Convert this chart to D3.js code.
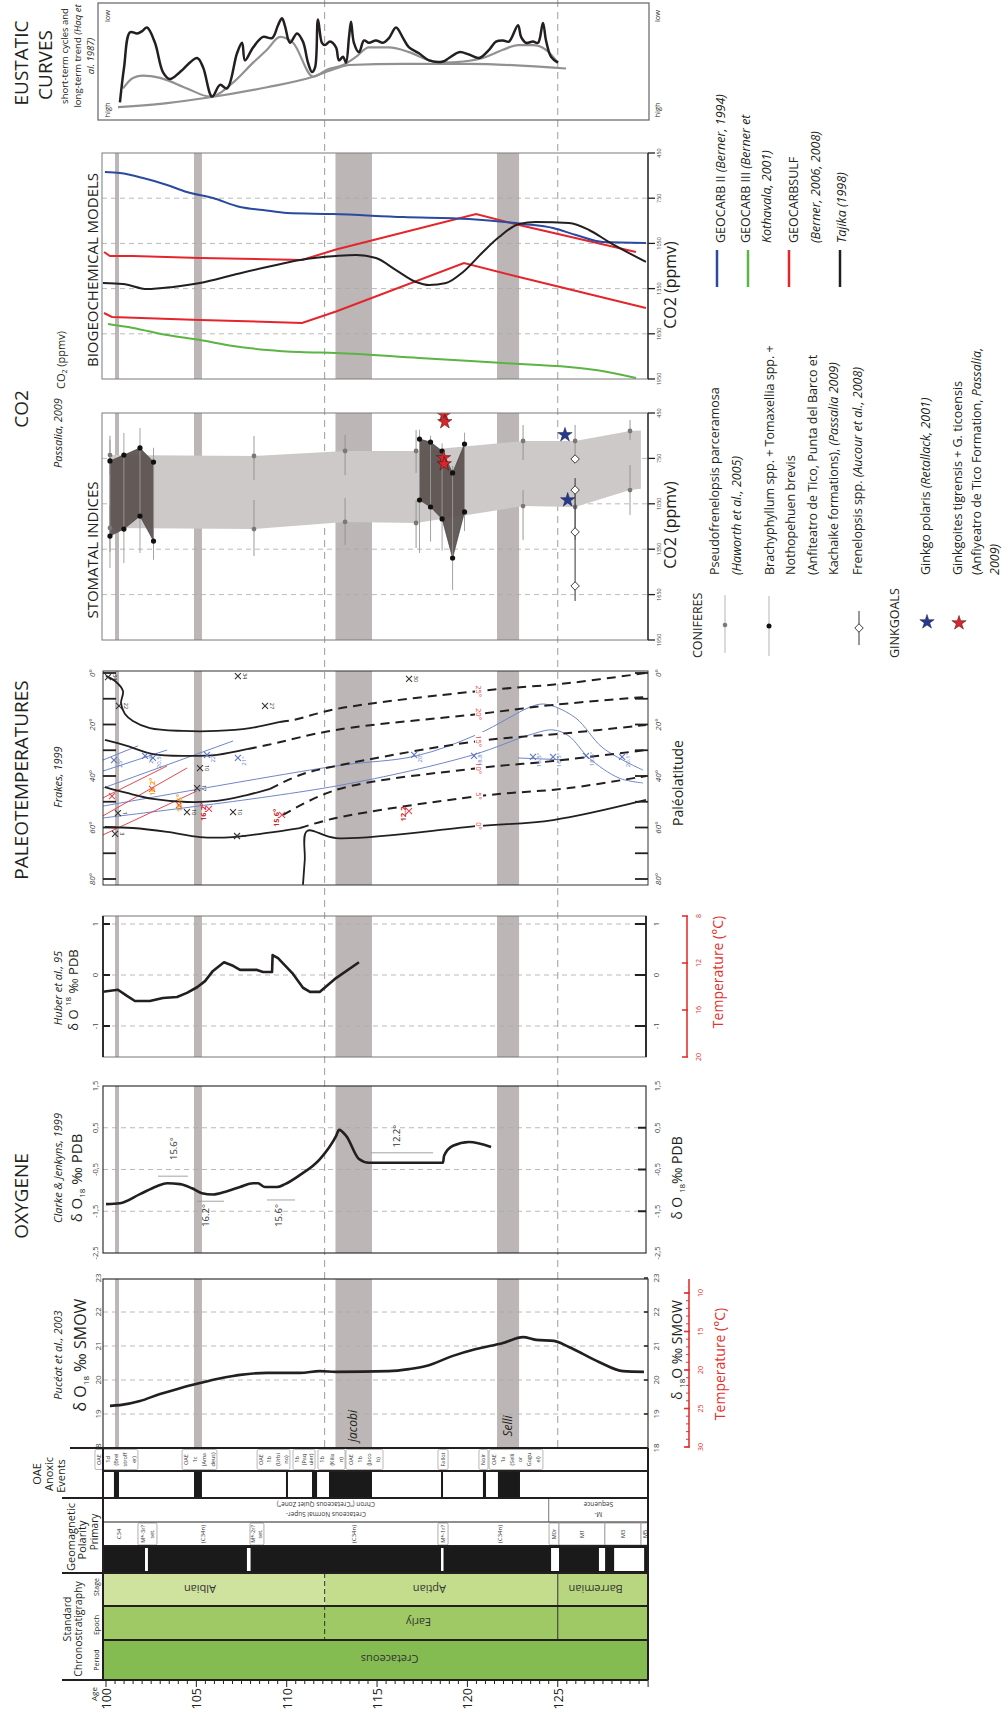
<!DOCTYPE html>
<html>
<head>
<meta charset="utf-8">
<title>Aptian–Albian climate proxies</title>
<script src="https://cdn.jsdelivr.net/npm/d3@7/dist/d3.min.js"></script>
<style>
  html, body { margin: 0; padding: 0; background: #fff; }
  svg { display: block; }
  text { font-family: "Open Sans", "Noto Sans", "DejaVu Sans", sans-serif; }
</style>
</head>
<body>
<svg id="fig" width="1008" height="1713"></svg>
<script>
// ================= DATA =================
const ageDomain = [100, 130];
const ageMajorTicks = [100, 105, 110, 115, 120, 125];
const boundaryAges = [112.1, 125];               // Albian/Aptian, Aptian/Barremian
const anoxicBands = [[100.5, 100.72], [104.87, 105.31], [112.7, 114.72], [121.64, 122.86]];
const bandNames = [{ name: "jacobi", age: 113.6 }, { name: "Selli", age: 122.2 }];

// Eustatic curves (Haq et al. 1987), relative units: 0 = high, 100 = low
const eustaticShort = [[100.77,15],[101.0,45],[101.33,75],[101.72,74],[102.0,76],[102.27,79],[102.71,66],[103.15,41],[103.54,35],[104.1,41],[105.04,53],[105.37,45],[105.87,20],[106.31,30],[106.7,27],[107.25,57],[107.53,66],[107.69,51],[108.14,62],[108.69,71],[109.19,70],[109.52,81],[109.74,87],[109.91,80],[110.18,66],[110.57,74],[110.9,67],[111.18,49],[111.4,41],[111.57,45],[111.73,86],[111.95,66],[112.12,64],[112.4,67],[112.73,62],[112.89,51],[113.12,54],[113.28,49],[113.45,71],[113.56,84],[113.72,66],[114.0,58],[114.28,68],[114.55,66],[114.94,68],[115.33,66],[115.66,70],[116.05,79],[116.44,70],[116.77,62],[117.32,57],[117.88,51],[118.65,50],[118.98,53],[119.54,58],[120.09,56],[120.64,53],[121.2,60],[121.58,67],[121.97,68],[122.3,67],[122.8,81],[122.97,71],[123.24,66],[123.63,67],[123.91,66],[124.18,83],[124.35,68],[124.63,54],[125.01,49]];
const eustaticLongUpper = [[100.94,27],[101.49,36],[102.05,38],[102.99,36],[104.48,27],[105.76,20],[107.03,32],[108.14,49],[108.91,60],[109.63,71],[110.35,66],[111.46,37],[112.23,43],[113.12,47],[113.84,54],[114.55,62],[115.66,62],[116.77,58],[117.88,51],[118.65,49],[119.76,50],[120.86,53],[121.97,60],[122.8,64],[123.63,64],[124.35,60],[125.01,49]];
const eustaticLongLower = [[100.66,11],[103.38,14.5],[105.59,19],[108.91,28],[111.46,37],[112.73,44],[113.45,47],[116.44,48],[120.09,48],[125.46,44]];

// Biogeochemical CO2 models (ppmv)
const geocarb2 = [[99.94,576],[100.77,583],[102.05,616],[103.38,662],[104.48,709],[105.92,749],[107.42,808],[108.69,828],[110.02,848],[112.56,855],[116.44,875],[120.09,888],[123.08,921],[124.74,948],[126.01,994],[127.5,1041],[129.88,1047]];
const geocarb3 = [[100.11,1585],[101.49,1611],[103.38,1658],[105.2,1691],[107.03,1731],[108.91,1757],[110.74,1771],[112.73,1777],[117.32,1811],[121.97,1844],[125.62,1870],[127.12,1890],[129.33,1943]];
const geocarbsulfHigh = [[99.89,1107],[100.22,1134],[101.49,1134],[105.2,1147],[110.85,1160],[112.73,1090],[120.48,855],[122.86,928],[129.33,1107]];
const geocarbsulfLow = [[99.89,1512],[100.33,1538],[105.2,1558],[110.85,1578],[112.73,1502],[119.81,1180],[122.86,1273],[129.88,1479]];
const tajika = [[99.83,1313],[100.94,1319],[102.27,1353],[103.71,1339],[105.2,1313],[107.03,1260],[108.91,1207],[110.74,1160],[112.73,1134],[113.84,1127],[114.94,1147],[116.05,1227],[117.16,1306],[117.88,1326],[118.82,1313],[119.76,1240],[120.86,1107],[121.75,1008],[122.86,921],[123.8,908],[125.62,915],[126.73,961],[127.84,1041],[129.88,1173]];

// Stomatal indices (ppmv)
const pseudofrenelopsis = [
  { age: 100.22, hi: 728, lo: 1210, hiBar: [600, 860], loBar: [1060, 1370] },
  { age: 108.19, hi: 734, lo: 1217, hiBar: [602, 893], loBar: [1025, 1395] },
  { age: 113.23, hi: 701, lo: 1170, hiBar: [595, 860], loBar: [1012, 1322] },
  { age: 117.16, hi: 701, lo: 1177, hiBar: [562, 846], loBar: [1025, 1342] },
  { age: 123.08, hi: 635, lo: 1065, hiBar: [529, 760], loBar: [959, 1289] },
  { age: 125.96, hi: 635, lo: 1071, hiBar: [529, 760], loBar: [959, 1289] },
  { age: 129.0, hi: 569, lo: 959, hiBar: [496, 628], loBar: [794, 1124] },
  { age: 129.6, hi: 565, lo: 950, hiBar: null, loBar: null }
];
const brachyAlbian = [
  { age: 100.22, hi: 767, lo: 1263, bar: [628, 1474] },
  { age: 100.99, hi: 728, lo: 1217, bar: [582, 1441] },
  { age: 101.88, hi: 681, lo: 1131, bar: [549, 1375] },
  { age: 102.63, hi: 774, lo: 1296, bar: [680, 1420] }
];
const brachyAptian = [
  { age: 117.35, hi: 622, lo: 1025, bar: [560, 1375] },
  { age: 117.96, hi: 642, lo: 1071, bar: [600, 1300] },
  { age: 118.6, hi: 701, lo: 1150, bar: [650, 1360] },
  { age: 119.18, hi: 846, lo: 1408, bar: [800, 1620] },
  { age: 119.84, hi: 655, lo: 1104, bar: [580, 1230] }
];
const frenelopsis = { age: 125.96, values: [754, 959, 1236, 1593], bar: [880, 1692] };
const ginkgoPolaris = [[125.4, 595], [125.55, 1025]];
const ginkgoites = [[118.7, 463], [118.75, 509], [118.68, 747], [118.72, 787]];

// Paleotemperatures (Frakes, 1999): isotherms in (age, paleolatitude)
const isotherms = [
  { t: "25°", solid: [[100.0,1.2],[100.5,3.1],[100.94,7.0],[100.83,11.7],[101.05,15.9],[101.49,18.6],[102.43,21.4],[104.26,22.5],[106.14,22.5],[107.97,21.4],[109.63,19.0]],
              dashed: [[109.63,19.0],[110.35,18.3],[112.73,14.0],[120.64,7.0],[125.62,3.9],[129.88,0]] },
  { t: "20°", solid: [[99.94,26.0],[101.16,28.3],[102.6,31.5],[104.48,32.2],[106.14,31.8],[107.86,29.5]],
              dashed: [[107.86,29.5],[108.91,28.0],[112.73,22.1],[120.64,15.9],[124.74,12.4],[129.88,9.3]] },
  { t: "15°", solid: [[99.94,44.3],[101.16,46.6],[102.6,48.9],[104.48,50.1],[106.14,49.7],[107.8,47.4],[109.08,45.0]],
              dashed: [[109.08,45.0],[110.74,39.6],[112.73,36.1],[120.64,26.4],[125.62,23.3],[129.88,20.2]] },
  { t: "10°", solid: [],
              dashed: [[109.8,55.1],[112.73,45.4],[120.64,36.9],[124.74,34.2],[129.88,29.9]] },
  { t: "5°",  solid: [[99.94,59.8],[101.49,60.2],[103.38,61.7],[105.2,63.7],[107.03,63.7],[108.91,62.1],[110.74,60.2]],
              dashed: [[110.74,60.2],[112.73,56.3],[120.64,47.8],[125.62,44.7],[129.88,40.0]] },
  { t: "0°",  solid: [[110.9,82.3],[111.0,72.6],[111.12,61.4],[112.73,64.1],[120.64,59.4],[124.74,57.1],[129.88,49.3]],
              dashed: [] }
];
const isothermLabelAge = 120.64;
const isothermLabelLat = [7.0, 15.9, 26.4, 36.9, 47.8, 59.4];
const blueTrends = [
  [[99.83,33.8],[101.77,28.3]],
  [[99.83,38.1],[103.38,29.9]],
  [[99.83,44.7],[107.03,26.4]],
  [[99.83,51.7],[112.73,36.1],[117.16,32.2],[120.5,24.0],[123.8,12.4],[124.52,12.4],[126.0,17.5],[127.5,29.1],[129.72,37.7]],
  [[99.83,56.3],[112.73,43.9],[120.31,31.8],[123.41,24.1],[124.74,22.1],[125.62,24.5],[126.73,33.0],[128.39,40.8],[129.72,42.7]],
  [[122.8,33.0],[125.62,33.8]]
];
const redTrends = [
  [[99.83,48.5],[103.38,36.1]],
  [[99.83,55.5],[104.48,36.9]],
  [[99.83,62.9],[105.04,45.8]]
];
const siteMarks = [[100.11,1.6,"34"],[100.72,12.8,"22"],[107.3,1.2,"34"],[108.8,12.8,"27"],[116.77,2.3,"30"],[105.2,36.9,"10"],[105.04,44.7,"17"],[104.48,54.0,"10"],[107.03,54.0,"10"],[100.66,54.4,"1"],[100.5,62.5,"3"],[107.25,63.3,"2"]];
const blueMarks = [[100.44,33.8,"25°"],[102.16,32.2,"24°"],[102.6,33.0,"20.5°"],[105.59,31.8,"22°"],[107.3,33.0,"21°"],[117.05,31.8,"20°"],[120.37,32.2,"18.8°"],[123.63,32.6,"16.5°"],[124.74,32.6,"16.5°"],[126.56,32.2,"18.6°"],[128.56,32.6,"20.1°"]];
const orangeMarks = [[102.55,45.0,"16.2°"],[104.04,51.3,"15.6°"]];
const redMarks = [[100.33,47.8,""],[105.7,52.8,"16.2°"],[109.74,55.1,"15.6°"],[116.77,53.6,"12.2"]];
const latTicks = [0, 20, 40, 60, 80];

// Oxygen isotopes
const huber = [[99.83,-0.33],[100.66,-0.29],[101.16,-0.41],[101.6,-0.51],[102.43,-0.51],[103.15,-0.45],[103.93,-0.43],[104.48,-0.35],[105.04,-0.24],[105.48,-0.12],[105.92,0.08],[106.53,0.25],[107.03,0.18],[107.42,0.10],[108.36,0.10],[108.69,0.06],[109.19,0.06],[109.22,0.39],[109.52,0.33],[110.35,0.02],[110.9,-0.25],[111.29,-0.33],[111.84,-0.33],[112.73,-0.06],[114.0,0.25]];
const huberTicks = [1, 0, -1];
const huberTempTicks = [8, 12, 16, 20];
const clarke = [[100.0,-1.33],[100.77,-1.31],[101.88,-1.09],[102.82,-0.90],[103.38,-0.83],[104.1,-0.85],[104.76,-0.95],[105.31,-1.07],[105.92,-1.10],[106.7,-1.02],[107.42,-0.92],[108.14,-0.83],[108.41,-0.83],[108.8,-0.92],[109.46,-0.92],[109.91,-0.85],[110.74,-0.63],[111.84,-0.25],[112.73,0.30],[112.9,0.45],[113.3,0.3],[114.0,-0.25],[114.55,-0.34],[118.65,-0.34],[118.71,-0.17],[119.2,0.07],[120.09,0.16],[121.31,0.04]];
const clarkeTicks = [1.5, 0.5, -0.5, -1.5, -2.5];
const clarkeNotes = [
  { label: "15.6°", from: 102.88, to: 104.54, value: -0.66, textAt: [103.7, 0.0] },
  { label: "16.2°", from: 105.04, to: 106.53, value: -1.26, textAt: [105.5, -1.6] },
  { label: "15.6°", from: 108.91, to: 110.46, value: -1.23, textAt: [109.5, -1.6] },
  { label: "12.2°", from: 114.67, to: 118.1, value: -0.10, textAt: [116.05, 0.3] }
];
const puceat = [[100.22,19.24],[100.77,19.26],[101.88,19.38],[102.99,19.59],[104.1,19.76],[105.2,19.91],[106.14,20.03],[107.03,20.12],[107.42,20.15],[108.91,20.21],[110.74,20.21],[111.84,20.26],[112.73,20.24],[115.66,20.26],[116.77,20.32],[117.71,20.41],[119.2,20.71],[120.48,20.91],[121.97,21.09],[123.08,21.26],[123.8,21.18],[124.79,21.15],[125.62,20.97],[127.28,20.53],[128.61,20.26],[129.77,20.24]];
const puceatTicks = [18, 19, 20, 21, 22, 23];
const puceatTempTicks = [10, 15, 20, 25, 30];

// Oceanic anoxic events
const oaeBars = [[100.44,100.72],[104.87,105.31],[109.96,110.07],[111.4,111.68],[112.34,114.72],[118.54,118.65],[120.86,121.03],[121.69,122.91]];
const oaeLabels = [
  { from: 99.39, to: 101.77, lines: ["OAE", "1d", "(Brei", "stroff", "er)"] },
  { from: 104.21, to: 106.14, lines: ["OAE", "1c", "(Ama", "deus)"] },
  { from: 108.36, to: 110.18, lines: ["OAE", "1b", "(Urbi", "no)"] },
  { from: 110.35, to: 111.57, lines: ["1b", "(Paq", "uier)"] },
  { from: 111.73, to: 113.23, lines: ["1b", "(Kilia", "n)"] },
  { from: 113.28, to: 115.33, lines: ["OAE", "1b", "(Jaco", "b)"] },
  { from: 118.37, to: 118.93, lines: ["Fallot"] },
  { from: 120.64, to: 121.14, lines: ["Noir"] },
  { from: 121.2, to: 124.18, lines: ["OAE", "1a", "(Selli", "or", "Gogu", "el)"] }
];

// Geomagnetic polarity
const superChrons = [
  { from: 99.83, to: 124.5, lines: ["Cretaceous Normal Super-", "Chron (\u201CCretaceous Quiet Zone\u201D)"] },
  { from: 124.5, to: 130, lines: ["M-", "Sequence"] }
];
const chronBoxes = [
  { from: 101.77, to: 102.82, lines: ["M*-3r?", "set."] },
  { from: 107.97, to: 108.74, lines: ["M*-2r?", "set."] },
  { from: 118.37, to: 118.93, lines: ["M*-1r?"] },
  { from: 124.52, to: 125.07, lines: ["M0r"] },
  { from: 125.07, to: 127.61, lines: ["M1"] },
  { from: 127.61, to: 129.61, lines: ["M3"] },
  { from: 129.61, to: 130.0, lines: ["M5"] }
];
const chronNames = [[100.72, "C34"], [105.37, "(C34n)"], [113.72, "(C34n)"], [121.8, "(C34n)"]];
const reversedIntervals = [[102.16,102.32],[107.8,108.0],[118.54,118.62],[124.63,125.07],[127.28,127.62],[128.12,129.78]];

// Standard chronostratigraphy
const stages = [
  { name: "Albian", from: 99.83, to: 112.1, labelAge: 105.2, color: "#cfe29e" },
  { name: "Aptian", from: 112.1, to: 125.0, labelAge: 117.9, color: "#c4dd8c" },
  { name: "Barremian", from: 125.0, to: 130.0, labelAge: 127.1, color: "#b8d67f" }
];
const epochs = [{ name: "Early", from: 99.83, to: 130.0, labelAge: 117.3, color: "#9fc964" }];
const periods = [{ name: "Cretaceous", from: 99.83, to: 130.0, labelAge: 115.7, color: "#84bc52" }];

// ================= DRAWING =================
const svg = d3.select("#fig");
const INK = "#231f20";
const x = d3.scaleLinear().domain(ageDomain).range([106, 648.1]);

const G = {
  eus: { l: 98, r: 649, t: 3, b: 120 },
  bio: { l: 102, r: 648, t: 153, b: 379 },
  sto: { l: 102, r: 648, t: 413, b: 640 },
  pal: { l: 103, r: 648, t: 671, b: 885 },
  hub: { l: 103, r: 646, t: 916, b: 1057 },
  cla: { l: 103, r: 646, t: 1086, b: 1253 },
  puc: { l: 103, r: 648, t: 1279, b: 1448 }
};
const yEus = d3.scaleLinear().domain([0, 100]).range([120, 3]);
const yBio = d3.scaleLinear().domain([450, 1950]).range([153, 379]);
const ySto = d3.scaleLinear().domain([450, 1950]).range([413, 640]);
const yPal = d3.scaleLinear().domain([0, 80]).range([673, 879]);
const yHub = d3.scaleLinear().domain([-1, 1]).range([1026, 924]);
const yHubT = d3.scaleLinear().domain([8, 20]).range([916, 1057]);
const yCla = d3.scaleLinear().domain([-2.5, 1.5]).range([1253, 1086]);
const yPuc = d3.scaleLinear().domain([18, 23]).range([1448, 1278]);
const yPucT = d3.scaleLinear().domain([10, 30]).range([1293, 1447]);

const defs = svg.append("defs");
Object.entries(G).forEach(([k, g]) => {
  defs.append("clipPath").attr("id", "clip-" + k)
    .append("rect").attr("x", g.l).attr("y", g.t).attr("width", g.r - g.l).attr("height", g.b - g.t);
});

// rotated text helper
function rtext(parent, px, py, content, o = {}) {
  const t = parent.append("text")
    .attr("transform", `translate(${px},${py}) rotate(${o.rot === undefined ? -90 : o.rot})`)
    .attr("text-anchor", o.anchor || "middle")
    .attr("dominant-baseline", "central")
    .attr("font-size", o.size || 10)
    .attr("fill", o.fill || INK);
  if (o.italic) t.attr("font-style", "italic");
  if (o.weight) t.attr("font-weight", o.weight);
  const parts = Array.isArray(content) ? content : [{ t: content }];
  parts.forEach(p => {
    const s = t.append("tspan").text(p.t);
    if (p.i) s.attr("font-style", "italic");
    if (p.sub) s.attr("font-size", p.sub).attr("baseline-shift", "sub");
    if (p.sup) s.attr("font-size", p.sup).attr("baseline-shift", "super");
  });
  return t;
}
const lineGen = (ys, curve) => d3.line().x(d => x(d[0])).y(d => ys(d[1])).curve(curve || d3.curveLinear);

// ---- vertical stage-boundary guides ----
svg.append("g").selectAll("line").data(boundaryAges).join("line")
  .attr("x1", d => x(d)).attr("x2", d => x(d)).attr("y1", 0).attr("y2", G.puc.b)
  .attr("stroke", "#9d9d9d").attr("stroke-width", 1).attr("stroke-dasharray", "7,5");

// ---- anoxic-event bands in every proxy panel ----
["bio", "sto", "pal", "hub", "cla", "puc"].forEach(k => {
  const g = G[k];
  svg.append("g").selectAll("rect").data(anoxicBands).join("rect")
    .attr("x", d => x(d[0])).attr("width", d => x(d[1]) - x(d[0]))
    .attr("y", g.t).attr("height", g.b - g.t).attr("fill", "#bcb7b6");
});

function hgrid(g, ys, vals) {
  svg.append("g").selectAll("line").data(vals).join("line")
    .attr("x1", g.l).attr("x2", g.r).attr("y1", d => ys(d)).attr("y2", d => ys(d))
    .attr("stroke", "#a8a8a8").attr("stroke-width", 0.8).attr("stroke-dasharray", "5,4");
}

// ============ EUSTATIC CURVES ============
{
  const g = G.eus, gg = svg.append("g").attr("clip-path", "url(#clip-eus)");
  gg.append("path").datum(eustaticLongLower).attr("d", lineGen(yEus, d3.curveMonotoneX))
    .attr("fill", "none").attr("stroke", "#919191").attr("stroke-width", 2.2);
  gg.append("path").datum(eustaticLongUpper).attr("d", lineGen(yEus, d3.curveMonotoneX))
    .attr("fill", "none").attr("stroke", "#919191").attr("stroke-width", 2.2);
  gg.append("path").datum(eustaticShort).attr("d", lineGen(yEus, d3.curveCatmullRom.alpha(0.5)))
    .attr("fill", "none").attr("stroke", INK).attr("stroke-width", 2.5).attr("stroke-linejoin", "round");
  svg.append("rect").attr("x", g.l).attr("y", g.t).attr("width", g.r - g.l).attr("height", g.b - g.t)
    .attr("fill", "none").attr("stroke", "#6f6f6f").attr("stroke-width", 1.3);
  rtext(svg, 107, 16, "low", { size: 7.5 });
  rtext(svg, 107, 110, "high", { size: 7.5 });
  rtext(svg, 657, 16, "low", { size: 7.5 });
  rtext(svg, 657, 110, "high", { size: 7.5 });
  rtext(svg, 21, 63, "EUSTATIC", { size: 19 });
  rtext(svg, 45, 65, "CURVES", { size: 19 });
  rtext(svg, 64, 56, "short-term cycles and", { size: 9.5 });
  rtext(svg, 77, 56, [{ t: "long-term trend " }, { t: "(Haq et", i: true }], { size: 9.5 });
  rtext(svg, 90, 56, "al. 1987)", { size: 9.5, italic: true });
}

// ============ BIOGEOCHEMICAL MODELS ============
function co2Axis(g, ys) {
  const ticks = [450, 750, 1050, 1350, 1650, 1950];
  svg.append("line").attr("x1", g.r).attr("x2", g.r).attr("y1", g.t).attr("y2", g.b)
    .attr("stroke", INK).attr("stroke-width", 1.3);
  svg.append("g").selectAll("line").data(ticks).join("line")
    .attr("x1", g.r).attr("x2", g.r + 7).attr("y1", d => ys(d)).attr("y2", d => ys(d))
    .attr("stroke", INK).attr("stroke-width", 1.3);
  ticks.forEach(t => rtext(svg, g.r + 11, ys(t), String(t), { size: 5.5, fill: "#444" }));
}
{
  const g = G.bio;
  hgrid(g, yBio, [750, 1050, 1350, 1650]);
  const gg = svg.append("g").attr("clip-path", "url(#clip-bio)");
  const series = [
    [geocarb3, "#5bb443"], [geocarbsulfHigh, "#e4252b"], [geocarbsulfLow, "#e4252b"],
    [geocarb2, "#2a4aa0"], [tajika, INK]
  ];
  series.forEach(([d, c]) => {
    const smooth = (d === geocarb2 || d === geocarb3 || d === tajika);
    gg.append("path").datum(d).attr("d", lineGen(yBio, smooth ? d3.curveMonotoneX : d3.curveLinear))
      .attr("fill", "none").attr("stroke", c).attr("stroke-width", 2);
  });
  svg.append("rect").attr("x", g.l).attr("y", g.t).attr("width", g.r - g.l).attr("height", g.b - g.t)
    .attr("fill", "none").attr("stroke", "#7a7a7a").attr("stroke-width", 1);
  co2Axis(g, yBio);
  rtext(svg, 92, 270, "BIOGEOCHEMICAL MODELS", { size: 15 });
  rtext(svg, 670, 285, "CO2  (ppmv)", { size: 16 });
  rtext(svg, 60, 360, [{ t: "CO" }, { t: "2", sub: 7 }, { t: " (ppmv)" }], { size: 11 });
}

// ============ STOMATAL INDICES ============
{
  const g = G.sto;
  hgrid(g, ySto, [750, 1050, 1350, 1650]);
  const gg = svg.append("g").attr("clip-path", "url(#clip-sto)");
  const env = d3.area().x(d => x(d.age)).y0(d => ySto(d.hi)).y1(d => ySto(d.lo));
  gg.append("path").datum(pseudofrenelopsis).attr("d", env).attr("fill", "#cdc9c8");
  pseudofrenelopsis.forEach(p => {
    [p.hiBar, p.loBar].forEach(b => {
      if (!b) return;
      gg.append("line").attr("x1", x(p.age)).attr("x2", x(p.age)).attr("y1", ySto(b[0])).attr("y2", ySto(b[1]))
        .attr("stroke", "#8e8e8e").attr("stroke-width", 0.9);
    });
  });
  [brachyAlbian, brachyAptian].forEach(grp => {
    const ring = grp.map(p => [x(p.age), ySto(p.hi)]).concat(grp.slice().reverse().map(p => [x(p.age), ySto(p.lo)]));
    gg.append("polygon").attr("points", ring.map(p => p.join(",")).join(" "))
      .attr("fill", "#5d5452").attr("fill-opacity", 0.95).attr("stroke", "#3d3535").attr("stroke-width", 0.6);
    grp.forEach(p => {
      gg.append("line").attr("x1", x(p.age)).attr("x2", x(p.age)).attr("y1", ySto(p.bar[0])).attr("y2", ySto(p.bar[1]))
        .attr("stroke", "#9a9a9a").attr("stroke-width", 0.9);
    });
  });
  pseudofrenelopsis.filter(p => p.hiBar).forEach(p => {
    [p.hi, p.lo].forEach(v => gg.append("circle").attr("cx", x(p.age)).attr("cy", ySto(v)).attr("r", 2.4).attr("fill", "#7d7777"));
  });
  [brachyAlbian, brachyAptian].forEach(grp => grp.forEach(p => {
    [p.hi, p.lo].forEach(v => gg.append("circle").attr("cx", x(p.age)).attr("cy", ySto(v)).attr("r", 2.6).attr("fill", "#111"));
  }));
  gg.append("line").attr("x1", x(frenelopsis.age)).attr("x2", x(frenelopsis.age))
    .attr("y1", ySto(frenelopsis.bar[0])).attr("y2", ySto(frenelopsis.bar[1])).attr("stroke", "#333").attr("stroke-width", 1);
  frenelopsis.values.forEach(v => {
    gg.append("path").attr("d", d3.symbol(d3.symbolSquare, 36)())
      .attr("transform", `translate(${x(frenelopsis.age)},${ySto(v)}) rotate(45)`)
      .attr("fill", "#fff").attr("stroke", "#333").attr("stroke-width", 0.9);
  });
  const star = d3.symbol(d3.symbolStar, 64)();
  ginkgoPolaris.forEach(d => gg.append("path").attr("d", star).attr("transform", `translate(${x(d[0])},${ySto(d[1])})`)
    .attr("fill", "#263a8f").attr("stroke", "#1a1a3a").attr("stroke-width", 0.5));
  ginkgoites.forEach(d => gg.append("path").attr("d", star).attr("transform", `translate(${x(d[0])},${ySto(d[1])})`)
    .attr("fill", "#d9262c").attr("stroke", "#3a1010").attr("stroke-width", 0.5));
  svg.append("rect").attr("x", g.l).attr("y", g.t).attr("width", g.r - g.l).attr("height", g.b - g.t)
    .attr("fill", "none").attr("stroke", "#7a7a7a").attr("stroke-width", 1);
  co2Axis(g, ySto);
  rtext(svg, 92, 550, "STOMATAL INDICES", { size: 15 });
  rtext(svg, 670, 525, "CO2  (ppmv)", { size: 16 });
  rtext(svg, 21, 409, "CO2", { size: 19 });
  rtext(svg, 57, 433, "Passalia, 2009", { size: 11, italic: true });
}

// ============ PALEOTEMPERATURES ============
{
  const g = G.pal;
  const gg = svg.append("g").attr("clip-path", "url(#clip-pal)");
  const cr = lineGen(yPal, d3.curveCatmullRom.alpha(0.5));
  blueTrends.forEach(d => gg.append("path").datum(d).attr("d", cr)
    .attr("fill", "none").attr("stroke", "#6f86c9").attr("stroke-width", 1));
  redTrends.forEach(d => gg.append("path").datum(d).attr("d", cr)
    .attr("fill", "none").attr("stroke", "#e2494b").attr("stroke-width", 1));
  isotherms.forEach(iso => {
    if (iso.solid.length) gg.append("path").datum(iso.solid).attr("d", cr)
      .attr("fill", "none").attr("stroke", INK).attr("stroke-width", 1.8);
    if (iso.dashed.length) gg.append("path").datum(iso.dashed).attr("d", cr)
      .attr("fill", "none").attr("stroke", INK).attr("stroke-width", 2).attr("stroke-dasharray", "9,6");
  });
  isotherms.forEach((iso, i) => {
    const px = x(isothermLabelAge), py = yPal(isothermLabelLat[i]);
    gg.append("rect").attr("x", px - 4).attr("y", py - 9).attr("width", 8).attr("height", 18).attr("fill", "#fff");
    rtext(gg, px, py, iso.t, { size: 7.5, fill: "#e2494b", rot: 90 });
  });
  const cross = (px, py, c, s = 3) => {
    gg.append("path").attr("d", `M${px - s},${py - s}L${px + s},${py + s}M${px - s},${py + s}L${px + s},${py - s}`)
      .attr("stroke", c).attr("stroke-width", 1.1);
  };
  siteMarks.forEach(d => { cross(x(d[0]), yPal(d[1]), "#333"); rtext(gg, x(d[0]) + 7, yPal(d[1]), d[2], { size: 5.5, rot: 90 }); });
  blueMarks.forEach(d => { cross(x(d[0]), yPal(d[1]), "#5f77c0"); rtext(gg, x(d[0]) + 6, yPal(d[1]) + 3, d[2], { size: 6, fill: "#5f77c0" }); });
  orangeMarks.forEach(d => { cross(x(d[0]), yPal(d[1]), "#e2494b"); rtext(gg, x(d[0]), yPal(d[1]) - 2, d[2], { size: 7.5, fill: "#f3a52b", weight: 700 }); });
  redMarks.forEach(d => {
    cross(x(d[0]), yPal(d[1]), "#e2494b");
    if (d[2]) rtext(gg, x(d[0]) - 6, yPal(d[1]) + 3, d[2], { size: 7.5, fill: "#d0242a", weight: 700 });
  });
  svg.append("rect").attr("x", g.l).attr("y", g.t).attr("width", g.r - g.l).attr("height", g.b - g.t)
    .attr("fill", "none").attr("stroke", "#333").attr("stroke-width", 1);
  const tk = d3.range(0, 81, 10);
  svg.append("g").selectAll("line").data(tk).join("line")
    .attr("x1", g.l).attr("x2", g.l + 13).attr("y1", d => yPal(d)).attr("y2", d => yPal(d))
    .attr("stroke", INK).attr("stroke-width", 1.8);
  svg.append("g").selectAll("line").data(tk).join("line")
    .attr("x1", g.r - 13).attr("x2", g.r).attr("y1", d => yPal(d)).attr("y2", d => yPal(d))
    .attr("stroke", INK).attr("stroke-width", 1.8);
  latTicks.forEach(t => {
    rtext(svg, 91, yPal(t), t + "°", { size: 8, italic: true, fill: "#444" });
    rtext(svg, 657, yPal(t), t + "°", { size: 8, italic: true, fill: "#444" });
  });
  rtext(svg, 21, 780, "PALEOTEMPERATURES", { size: 19 });
  rtext(svg, 57, 777, "Frakes, 1999", { size: 11, italic: true });
  rtext(svg, 677, 783, "Paléolatitude", { size: 14 });
}

// ============ OXYGEN: Huber ============
function tempAxis(ax, ys, ticks, minor, top, bottom, labelY) {
  svg.append("line").attr("x1", ax).attr("x2", ax).attr("y1", top).attr("y2", bottom)
    .attr("stroke", "#e2312f").attr("stroke-width", 1.6);
  if (minor) svg.append("g").selectAll("line").data(minor).join("line")
    .attr("x1", ax - 3).attr("x2", ax).attr("y1", d => ys(d)).attr("y2", d => ys(d))
    .attr("stroke", "#e2312f").attr("stroke-width", 1);
  svg.append("g").selectAll("line").data(ticks).join("line")
    .attr("x1", ax - 5).attr("x2", ax + 1).attr("y1", d => ys(d)).attr("y2", d => ys(d))
    .attr("stroke", "#e2312f").attr("stroke-width", 1.6);
  ticks.forEach(t => rtext(svg, ax + 11, ys(t), String(t), { size: 7, fill: "#e2312f" }));
  rtext(svg, ax + 30, labelY, "Temperature (°C)", { size: 14, fill: "#e2312f" });
}
{
  const g = G.hub;
  hgrid(g, yHub, huberTicks);
  const gg = svg.append("g").attr("clip-path", "url(#clip-hub)");
  gg.append("path").datum(huber).attr("d", lineGen(yHub, d3.curveLinear))
    .attr("fill", "none").attr("stroke", INK).attr("stroke-width", 2.6).attr("stroke-linejoin", "round");
  svg.append("rect").attr("x", g.l).attr("y", g.t).attr("width", g.r - g.l).attr("height", g.b - g.t)
    .attr("fill", "none").attr("stroke", "#777").attr("stroke-width", 1);
  [g.l, g.r].forEach(xx => svg.append("line").attr("x1", xx).attr("x2", xx).attr("y1", g.t).attr("y2", g.b)
    .attr("stroke", INK).attr("stroke-width", 1.8));
  svg.append("g").selectAll("line").data(huberTicks).join("line")
    .attr("x1", g.l).attr("x2", g.l + 7).attr("y1", d => yHub(d)).attr("y2", d => yHub(d)).attr("stroke", INK).attr("stroke-width", 2);
  svg.append("g").selectAll("line").data(huberTicks).join("line")
    .attr("x1", g.r - 11).attr("x2", g.r).attr("y1", d => yHub(d)).attr("y2", d => yHub(d)).attr("stroke", INK).attr("stroke-width", 2);
  huberTicks.forEach(t => {
    rtext(svg, 95, yHub(t), String(t), { size: 7.5, fill: "#444" });
    rtext(svg, 656, yHub(t), String(t), { size: 7.5, fill: "#444" });
  });
  tempAxis(687, yHubT, huberTempTicks, null, 916, 1057, 972);
  rtext(svg, 57, 988, "Huber et al., 95", { size: 11, italic: true });
  rtext(svg, 73, 990, [{ t: "δ O " }, { t: "18", sup: 8 }, { t: " ‰ PDB" }], { size: 13 });
}

// ============ OXYGEN: Clarke & Jenkyns ============
{
  const g = G.cla;
  hgrid(g, yCla, [0.5, -0.5, -1.5]);
  const gg = svg.append("g").attr("clip-path", "url(#clip-cla)");
  clarkeNotes.forEach(n => {
    gg.append("line").attr("x1", x(n.from)).attr("x2", x(n.to)).attr("y1", yCla(n.value)).attr("y2", yCla(n.value))
      .attr("stroke", "#9a9a9a").attr("stroke-width", 0.9);
    rtext(gg, x(n.textAt[0]), yCla(n.textAt[1]), n.label, { size: 9.5, fill: "#333" });
  });
  gg.append("path").datum(clarke).attr("d", lineGen(yCla, d3.curveMonotoneX))
    .attr("fill", "none").attr("stroke", INK).attr("stroke-width", 2.6).attr("stroke-linejoin", "round");
  svg.append("rect").attr("x", g.l).attr("y", g.t).attr("width", g.r - g.l).attr("height", g.b - g.t)
    .attr("fill", "none").attr("stroke", "#333").attr("stroke-width", 1.2);
  svg.append("g").selectAll("line").data([0.5, -0.5, -1.5]).join("line")
    .attr("x1", g.r - 8).attr("x2", g.r).attr("y1", d => yCla(d)).attr("y2", d => yCla(d)).attr("stroke", INK).attr("stroke-width", 2);
  clarkeTicks.forEach(t => {
    const s = String(t).replace(".", ",");
    rtext(svg, 95, yCla(t), s, { size: 7.5, fill: "#444" });
    rtext(svg, 657, yCla(t), s, { size: 7.5, fill: "#444" });
  });
  rtext(svg, 21, 1196, "OXYGENE", { size: 19 });
  rtext(svg, 57, 1168, "Clarke & Jenkyns, 1999", { size: 11, italic: true });
  rtext(svg, 76, 1178, [{ t: "δ O" }, { t: "18", sub: 8 }, { t: " ‰ PDB" }], { size: 15 });
  rtext(svg, 676, 1178, [{ t: "δ O " }, { t: "18", sub: 8 }, { t: "‰ PDB" }], { size: 14 });
}

// ============ OXYGEN: Pucéat ============
{
  const g = G.puc;
  hgrid(g, yPuc, [19, 20, 21, 22]);
  const gg = svg.append("g").attr("clip-path", "url(#clip-puc)");
  gg.append("path").datum(puceat).attr("d", lineGen(yPuc, d3.curveMonotoneX))
    .attr("fill", "none").attr("stroke", INK).attr("stroke-width", 2.6);
  bandNames.forEach(b => rtext(gg, x(b.age), 1426, b.name, { size: 12, italic: true }));
  svg.append("rect").attr("x", g.l).attr("y", g.t).attr("width", g.r - g.l).attr("height", g.b - g.t)
    .attr("fill", "none").attr("stroke", "#333").attr("stroke-width", 1.2);
  svg.append("g").selectAll("line").data(puceatTicks).join("line")
    .attr("x1", g.r - 4).attr("x2", g.r).attr("y1", d => yPuc(d)).attr("y2", d => yPuc(d)).attr("stroke", INK).attr("stroke-width", 1.5);
  puceatTicks.forEach(t => {
    rtext(svg, 97, yPuc(t), String(t), { size: 8, fill: "#444" });
    rtext(svg, 655, yPuc(t), String(t), { size: 8, fill: "#444" });
  });
  tempAxis(689, yPucT, puceatTempTicks, d3.range(10, 31, 1), 1279, 1447, 1364);
  rtext(svg, 57, 1355, "Pucéat et al., 2003", { size: 11, italic: true });
  rtext(svg, 80, 1355, [{ t: "δ O" }, { t: "18", sub: 8 }, { t: " ‰ SMOW" }], { size: 16 });
  rtext(svg, 676, 1350, [{ t: "δ " }, { t: "18", sub: 8 }, { t: "O ‰ SMOW" }], { size: 14 });
}

// ============ OAE ROWS ============
const R = { oaeTop: 1448, oaeMid: 1471, oaeBot: 1498, supBot: 1522, chrBot: 1546, polBot: 1573, stgBot: 1606, epoBot: 1640, perBot: 1680 };
const L = 103, Rr = 648;
{
  svg.append("g").selectAll("rect").data(oaeBars).join("rect")
    .attr("x", d => x(d[0])).attr("width", d => Math.max(2, x(d[1]) - x(d[0])))
    .attr("y", R.oaeMid).attr("height", R.oaeBot - R.oaeMid).attr("fill", "#1a1a1a");
  oaeLabels.forEach(o => {
    const x0 = x(o.from), x1 = x(o.to);
    svg.append("rect").attr("x", x0).attr("y", R.oaeTop + 1.5).attr("width", x1 - x0).attr("height", R.oaeMid - R.oaeTop - 3)
      .attr("rx", 1.5).attr("fill", "#fff").attr("stroke", "#8a8a8a").attr("stroke-width", 0.6);
    const n = o.lines.length, step = (x1 - x0) / n;
    o.lines.forEach((s, i) => rtext(svg, x0 + step * (i + 0.5), (R.oaeTop + R.oaeMid) / 2, s, { size: 5.5, fill: "#333" }));
  });
}

// ============ GEOMAGNETIC POLARITY ============
{
  superChrons.forEach(c => {
    const x0 = Math.max(L, x(c.from)), x1 = Math.min(Rr, x(c.to));
    svg.append("line").attr("x1", x1).attr("x2", x1).attr("y1", R.oaeBot).attr("y2", R.supBot).attr("stroke", "#555").attr("stroke-width", 0.8);
    c.lines.forEach((s, i) => rtext(svg, (x0 + x1) / 2, (R.oaeBot + R.supBot) / 2 + (i === 0 ? 5 : -5), s, { size: 6.5, rot: 180, fill: "#333" }));
  });
  chronBoxes.forEach(c => {
    const x0 = x(c.from), x1 = Math.min(Rr, x(c.to));
    svg.append("rect").attr("x", x0).attr("y", R.supBot + 1).attr("width", x1 - x0).attr("height", R.chrBot - R.supBot - 2)
      .attr("rx", 1.5).attr("fill", "#fff").attr("stroke", "#777").attr("stroke-width", 0.6);
    const n = c.lines.length, step = (x1 - x0) / n;
    c.lines.forEach((s, i) => rtext(svg, x0 + step * (i + 0.5), (R.supBot + R.chrBot) / 2, s, { size: 5.5, fill: "#333" }));
  });
  chronNames.forEach(d => rtext(svg, x(d[0]), (R.supBot + R.chrBot) / 2, d[1], { size: 6, fill: "#333" }));
  svg.append("rect").attr("x", L).attr("y", R.chrBot).attr("width", Rr - L).attr("height", R.polBot - R.chrBot).attr("fill", "#1a1a1a");
  svg.append("g").selectAll("rect").data(reversedIntervals).join("rect")
    .attr("x", d => x(d[0])).attr("width", d => Math.max(2.5, x(d[1]) - x(d[0])))
    .attr("y", R.chrBot + 2).attr("height", R.polBot - R.chrBot - 4).attr("fill", "#fff");
}

// ============ CHRONOSTRATIGRAPHY ============
{
  const rows = [[stages, R.polBot, R.stgBot], [epochs, R.stgBot, R.epoBot], [periods, R.epoBot, R.perBot]];
  rows.forEach(([arr, t, b]) => {
    arr.forEach(s => {
      const x0 = Math.max(L, x(s.from)), x1 = Math.min(Rr, x(s.to));
      svg.append("rect").attr("x", x0).attr("y", t).attr("width", x1 - x0).attr("height", b - t).attr("fill", s.color);
      rtext(svg, x(s.labelAge), (t + b) / 2, s.name, { size: 11, rot: 180, fill: "#333" });
    });
  });
  svg.append("line").attr("x1", x(boundaryAges[0])).attr("x2", x(boundaryAges[0])).attr("y1", R.polBot).attr("y2", R.epoBot)
    .attr("stroke", "#333").attr("stroke-width", 1).attr("stroke-dasharray", "5,3");
  svg.append("line").attr("x1", x(boundaryAges[1])).attr("x2", x(boundaryAges[1])).attr("y1", R.polBot).attr("y2", R.epoBot)
    .attr("stroke", "#333").attr("stroke-width", 1);
}

// row frame lines and headers
{
  const hl = [[R.oaeTop, 70, 2], [R.oaeMid, L, 2], [R.oaeBot, 62, 2], [R.supBot, L, 1.2], [R.chrBot, L, 2], [R.polBot, 62, 2], [R.stgBot, L, 2], [R.epoBot, L, 2], [R.perBot, 62, 2.2]];
  hl.forEach(([yy, x0, w]) => svg.append("line").attr("x1", x0).attr("x2", Rr).attr("y1", yy).attr("y2", yy).attr("stroke", INK).attr("stroke-width", w));
  [L, Rr].forEach(xx => svg.append("line").attr("x1", xx).attr("x2", xx).attr("y1", R.oaeTop).attr("y2", R.perBot).attr("stroke", INK).attr("stroke-width", 2));
  rtext(svg, 36, 1474, "OAE", { size: 11 });
  rtext(svg, 48, 1474, "Anoxic", { size: 11 });
  rtext(svg, 60, 1476, "Events", { size: 11 });
  rtext(svg, 70, 1537, "Geomagnetic", { size: 11 });
  rtext(svg, 81, 1540, "Polarity", { size: 11 });
  rtext(svg, 94, 1532, "Primary", { size: 10 });
  rtext(svg, 67, 1619, "Standard", { size: 10.5 });
  rtext(svg, 78, 1629, "Chronostratigraphy", { size: 10.5 });
  rtext(svg, 96, 1587, "Stage", { size: 7 });
  rtext(svg, 96, 1625, "Epoch", { size: 7 });
  rtext(svg, 96, 1660, "Period", { size: 7 });
}

// ============ AGE AXIS ============
{
  const minor = d3.range(100, 130.01, 0.5);
  svg.append("g").selectAll("line").data(minor).join("line")
    .attr("x1", d => x(d)).attr("x2", d => x(d)).attr("y1", R.perBot)
    .attr("y2", d => R.perBot + (d % 5 === 0 ? 7 : 4)).attr("stroke", INK).attr("stroke-width", 1);
  ageMajorTicks.forEach(t => rtext(svg, x(t), R.perBot + 8, String(t), { size: 12.5, anchor: "end" }));
  rtext(svg, 93, 1694, "Age", { size: 8 });
}

// ============ LEGENDS ============
{
  const models = [
    { cx: 717, color: "#2a4aa0" }, { cx: 748, color: "#5bb443" }, { cx: 789, color: "#e4252b" }, { cx: 840, color: INK }
  ];
  models.forEach(m => svg.append("line").attr("x1", m.cx).attr("x2", m.cx).attr("y1", 250).attr("y2", 287)
    .attr("stroke", m.color).attr("stroke-width", 2.5));
  const lt = (cx, y0, parts) => rtext(svg, cx, y0, parts, { size: 12.5, anchor: "start" });
  lt(720, 243, [{ t: "GEOCARB II " }, { t: "(Berner, 1994)", i: true }]);
  lt(745, 243, [{ t: "GEOCARB III " }, { t: "(Berner et", i: true }]);
  lt(766, 243, [{ t: "Kothavala, 2001)", i: true }]);
  lt(793, 243, [{ t: "GEOCARBSULF" }]);
  lt(815, 243, [{ t: "(Berner, 2006, 2008)", i: true }]);
  lt(841, 243, [{ t: "Tajika (1998)", i: true }]);

  rtext(svg, 697, 658, "CONIFERES", { size: 12.5, anchor: "start" });
  svg.append("line").attr("x1", 725).attr("x2", 725).attr("y1", 595).attr("y2", 653).attr("stroke", "#b5b5b5").attr("stroke-width", 1);
  svg.append("circle").attr("cx", 725).attr("cy", 625).attr("r", 2.3).attr("fill", "#7d7777");
  lt(714, 575, [{ t: "Pseudofrenelopsis parceramosa" }]);
  lt(736, 575, [{ t: "(Haworth et al., 2005)", i: true }]);
  svg.append("line").attr("x1", 769).attr("x2", 769).attr("y1", 596).attr("y2", 656).attr("stroke", "#b5b5b5").attr("stroke-width", 1);
  svg.append("circle").attr("cx", 769).attr("cy", 626).attr("r", 2.5).attr("fill", "#111");
  lt(769, 575, [{ t: "Brachyphyllum spp. + Tomaxellia spp. +" }]);
  lt(790, 575, [{ t: "Nothopehuen brevis" }]);
  lt(812, 575, [{ t: "(Anfiteatro de Tico, Punta del Barco et" }]);
  lt(833, 575, [{ t: "Kachaike formations), " }, { t: "(Passalia 2009)", i: true }]);
  lt(857, 575, [{ t: "Frenelopsis spp. " }, { t: "(Aucour et al., 2008)", i: true }]);
  svg.append("line").attr("x1", 859).attr("x2", 859).attr("y1", 611).attr("y2", 645).attr("stroke", "#333").attr("stroke-width", 1);
  svg.append("path").attr("d", d3.symbol(d3.symbolSquare, 36)()).attr("transform", "translate(859,628) rotate(45)")
    .attr("fill", "#fff").attr("stroke", "#333").attr("stroke-width", 0.9);

  rtext(svg, 894, 658, "GINKGOALS", { size: 12.5, anchor: "start" });
  const star = d3.symbol(d3.symbolStar, 64)();
  svg.append("path").attr("d", star).attr("transform", "translate(927,622)").attr("fill", "#263a8f").attr("stroke", "#1a1a3a").attr("stroke-width", 0.5);
  lt(925, 575, [{ t: "Ginkgo polaris " }, { t: "(Retallack, 2001)", i: true }]);
  svg.append("path").attr("d", star).attr("transform", "translate(959,623)").attr("fill", "#d9262c").attr("stroke", "#3a1010").attr("stroke-width", 0.5);
  lt(957, 575, [{ t: "Ginkgoites tigrensis + G. ticoensis" }]);
  lt(976, 575, [{ t: "(Anfiyeatro de Tico Formation, " }, { t: "Passalia,", i: true }]);
  lt(994, 575, [{ t: "2009)", i: true }]);
}
</script>
</body>
</html>
